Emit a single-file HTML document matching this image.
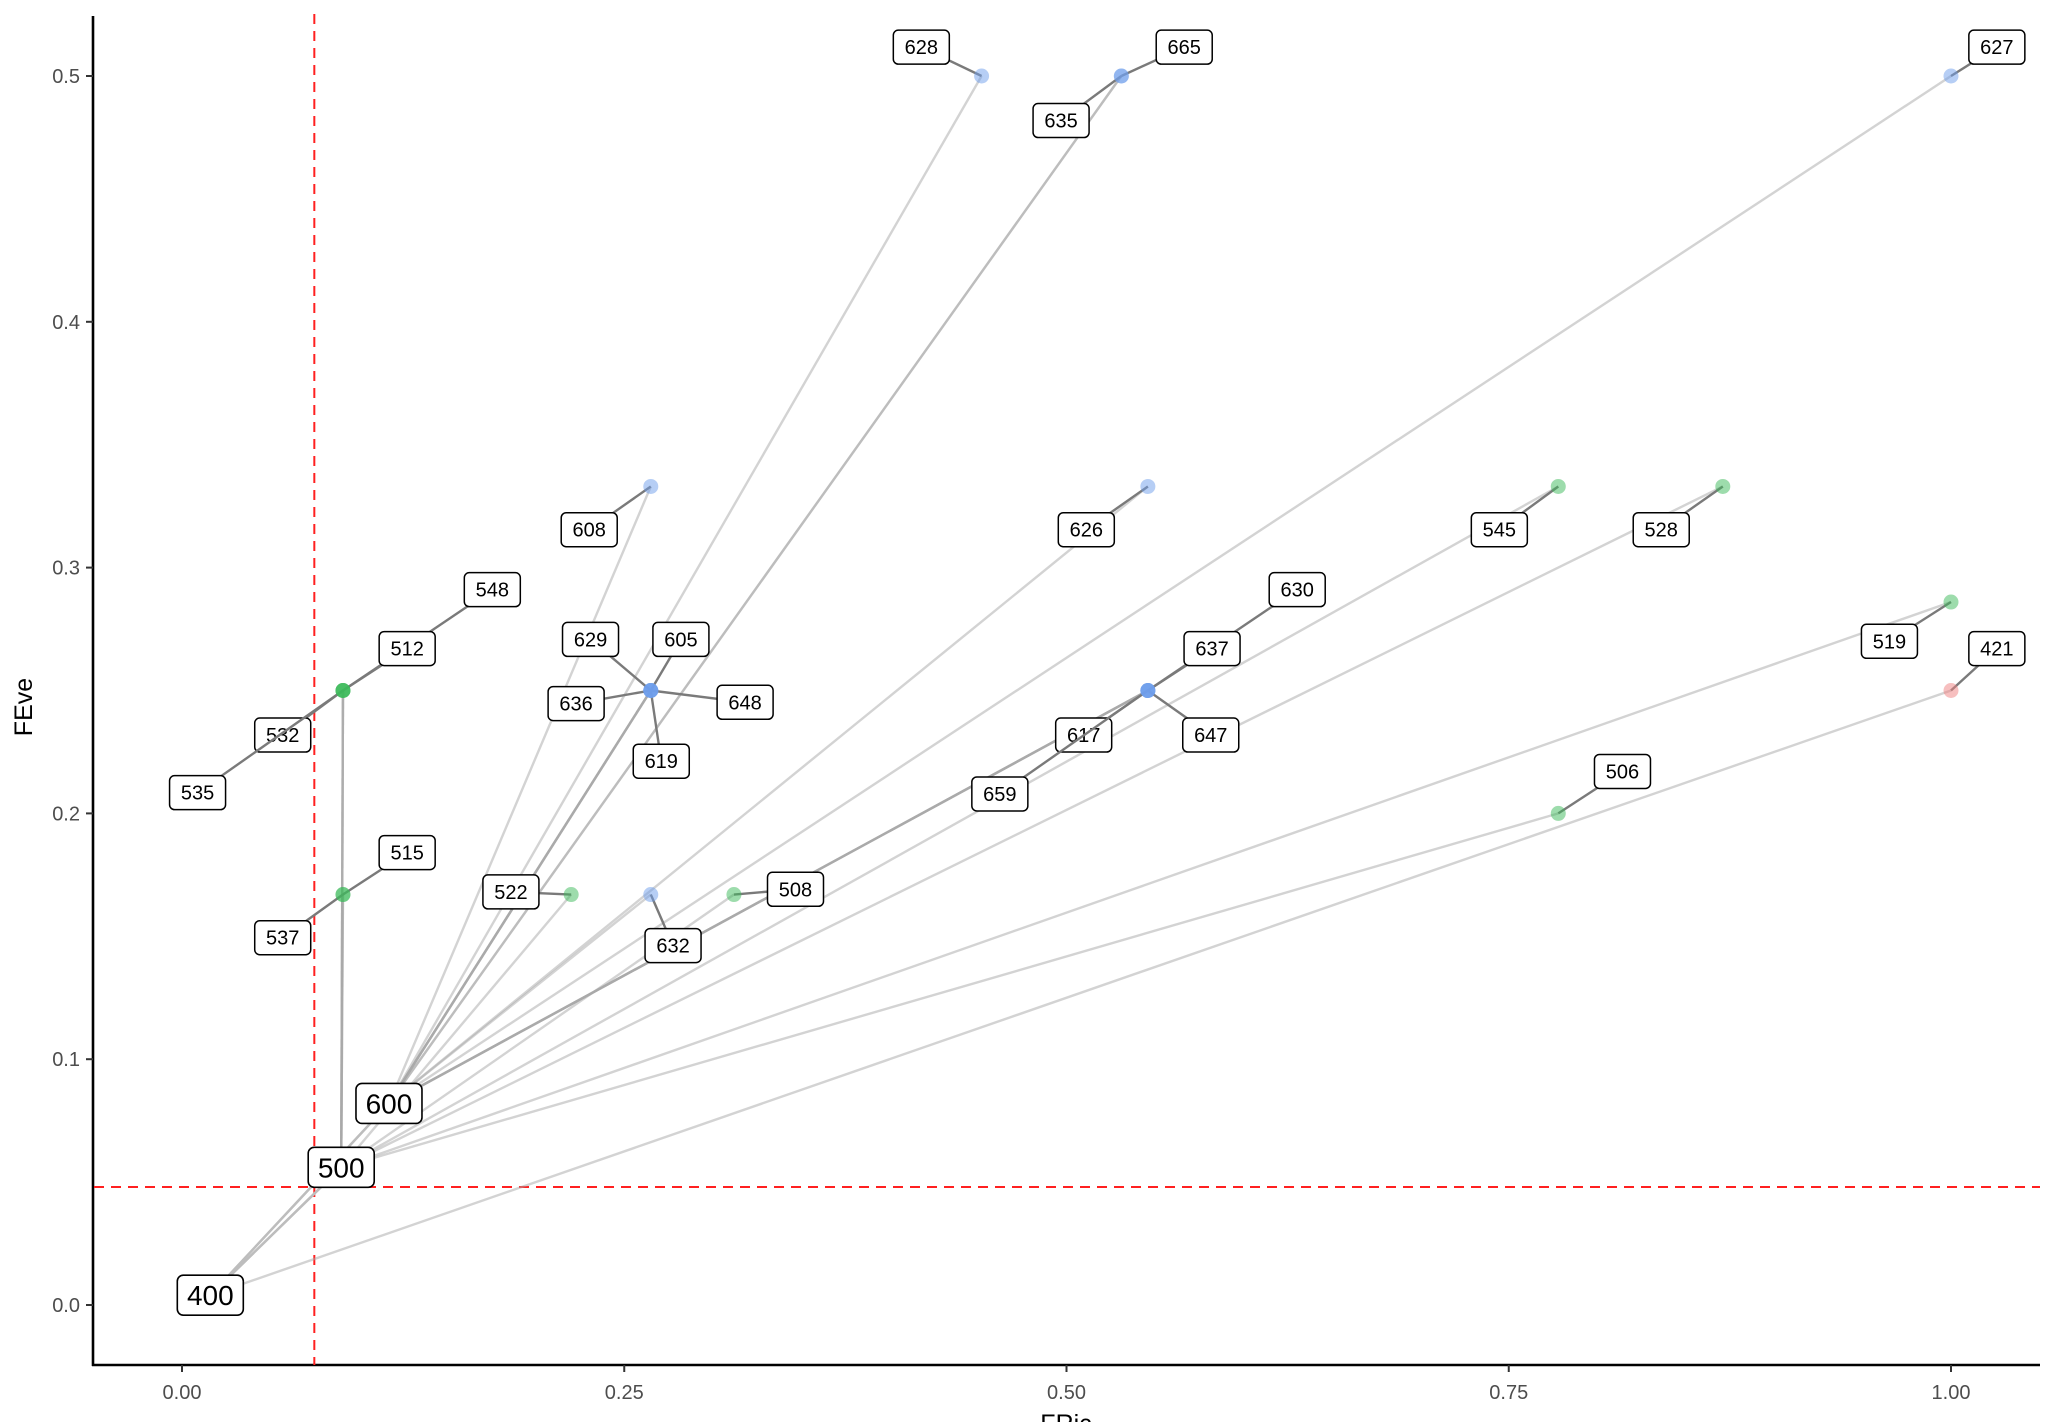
<!DOCTYPE html>
<html><head><meta charset="utf-8"><style>
html,body{margin:0;padding:0;background:#fff;}
svg{display:block;font-family:"Liberation Sans",Arial,sans-serif;}
</style></head><body>
<svg id="chart" width="2054" height="1422" viewBox="0 0 2054 1422" xmlns="http://www.w3.org/2000/svg">
<g id="grid"></g>
</svg>
<script>
const ids   = ["628","665","635","627","608","626","545","528","548","512","532","535","630","637","617","647","659","629","605","636","648","619","519","421","506","515","537","522","508","632"];
const fric  = [0.452,0.531,0.531,1.0,0.265,0.546,0.778,0.871,0.091,0.091,0.091,0.091,0.546,0.546,0.546,0.546,0.546,0.265,0.265,0.265,0.265,0.265,1.0,1.0,0.778,0.091,0.091,0.22,0.312,0.265];
const feve  = [0.5,0.5,0.5,0.5,0.333,0.333,0.333,0.333,0.25,0.25,0.25,0.25,0.25,0.25,0.25,0.25,0.25,0.25,0.25,0.25,0.25,0.25,0.286,0.25,0.2,0.167,0.167,0.167,0.167,0.167];
const group = ["600","600","600","600","600","600","500","500","500","500","500","500","600","600","600","600","600","600","600","600","600","600","500","400","500","500","500","500","500","600"];
const labDx = [-46,48,-46,35,-47,-47,-45,-47,114,49,-46,-111,114,49,-49,48,-113,-46,23,-57,72,8,-47,35,49,49,-46,-46,47,17];
const labDy = [-22,-22,34,-22,33,33,33,33,-77,-32,34,78,-77,-32,34,34,79,-39,-39,10,9,54,30,-32,-32,-32,33,-2,-4,39];
const hubNames = ["400","500","600"];
const hubX = [0.016,0.09,0.117];
const hubY = [0.004,0.056,0.082];
const xTicks = [0,0.25,0.5,0.75,1.0];
const xTickLabels = ["0.00","0.25","0.50","0.75","1.00"];
const yTicks = [0,0.1,0.2,0.3,0.4,0.5];
const yTickLabels = ["0.0","0.1","0.2","0.3","0.4","0.5"];
const vline = 0.0748, hline = 0.048;

const X = v => 182 + v*1769;
const Y = v => 1305 - v*2458;
const S = 1.31;
const NS="http://www.w3.org/2000/svg";
const svg=document.getElementById('chart');
function mk(t,a,p){const e=document.createElementNS(NS,t);for(const k in a)e.setAttribute(k,a[k]);(p||svg).appendChild(e);return e;}

const ax=mk('g',{});


mk('line',{x1:93,y1:16,x2:93,y2:1366,stroke:'#000','stroke-width':2.6},ax);
mk('line',{x1:92,y1:1365,x2:2040,y2:1365,stroke:'#000','stroke-width':2.6},ax);
xTicks.forEach((v,i)=>{
  mk('line',{x1:X(v),y1:1365,x2:X(v),y2:1372,stroke:'#333','stroke-width':2},ax);
  const t=mk('text',{x:X(v),y:1399,'text-anchor':'middle','font-size':20,fill:'#4d4d4d'},ax);
  t.textContent=xTickLabels[i];
  
  
});
yTicks.forEach((v,i)=>{
  mk('line',{x1:86,y1:Y(v),x2:93,y2:Y(v),stroke:'#333','stroke-width':2},ax);
  const t=mk('text',{x:80,y:Y(v)+7,'text-anchor':'end','font-size':20,fill:'#4d4d4d'},ax);
  t.textContent=yTickLabels[i];
  
  
});
const xt=mk('text',{x:1066,y:1432,'text-anchor':'middle','font-size':25,fill:'#000'});
xt.textContent='FRic';


const yt=mk('text',{x:32,y:707,'text-anchor':'middle','font-size':25,fill:'#000',transform:'rotate(-90 32 707)'});
yt.textContent='FEve';



const rv=mk('line',{x1:X(vline),y1:14,x2:X(vline),y2:1365,stroke:'#ff2020','stroke-width':2,'stroke-dasharray':'10,7'});


const rh=mk('line',{x1:94,y1:Y(hline),x2:2040,y2:Y(hline),stroke:'#ff2020','stroke-width':2,'stroke-dasharray':'10,7'});



const hubIdx={"400":0,"500":1,"600":2};
const lines=mk('g',{});


[[0,1],[0,1],[0,1],[0,2],[0,2]].forEach(p=>{
  const l=mk('line',{x1:X(hubX[p[0]]),y1:Y(hubY[p[0]]),x2:X(hubX[p[1]]),y2:Y(hubY[p[1]]),stroke:'#bdbdbd','stroke-width':2.4},lines);
  
  
});
ids.forEach((id,i)=>{
  const h=hubIdx[group[i]];
  const l=mk('line',{x1:X(hubX[h]),y1:Y(hubY[h]),x2:X(fric[i]),y2:Y(feve[i]),stroke:'#a8a8a8','stroke-opacity':0.5,'stroke-width':2.4},lines);
  
  
});

const labs=mk('g',{});


ids.forEach((id,i)=>{
  const px=X(fric[i]),py=Y(feve[i]);
  const lx=px+labDx[i]*S, ly=py+labDy[i]*S;
  mk('line',{x1:px,y1:py,x2:lx,y2:ly,stroke:'#7a7a7a','stroke-width':2.4},labs);
  const g=mk('g',{},labs);
  
  
  mk('rect',{x:lx-28,y:ly-17,width:56,height:34,rx:5,fill:'#fff',stroke:'#000','stroke-width':1.5},g);
  const t=mk('text',{x:lx,y:ly+7,'text-anchor':'middle','font-size':20,fill:'#000'},g);
  t.textContent=id;
});

const pts=mk('g',{});


const col={"400":'#f08080',"500":'#3cb95a',"600":'#6d9eeb'};
ids.forEach((id,i)=>{
  const c=mk('circle',{cx:X(fric[i]),cy:Y(feve[i]),r:7.5,fill:col[group[i]],'fill-opacity':0.5},pts);
  
  
});

hubNames.forEach((n,i)=>{
  const g=mk('g',{});
  
  
  const x=X(hubX[i]),y=Y(hubY[i]);
  mk('rect',{x:x-33,y:y-20,width:66,height:40,rx:6,fill:'#fff',stroke:'#000','stroke-width':1.6},g);
  const t=mk('text',{x:x,y:y+10,'text-anchor':'middle','font-size':28,fill:'#000'},g);
  t.textContent=n;
});
</script>
</body></html>
